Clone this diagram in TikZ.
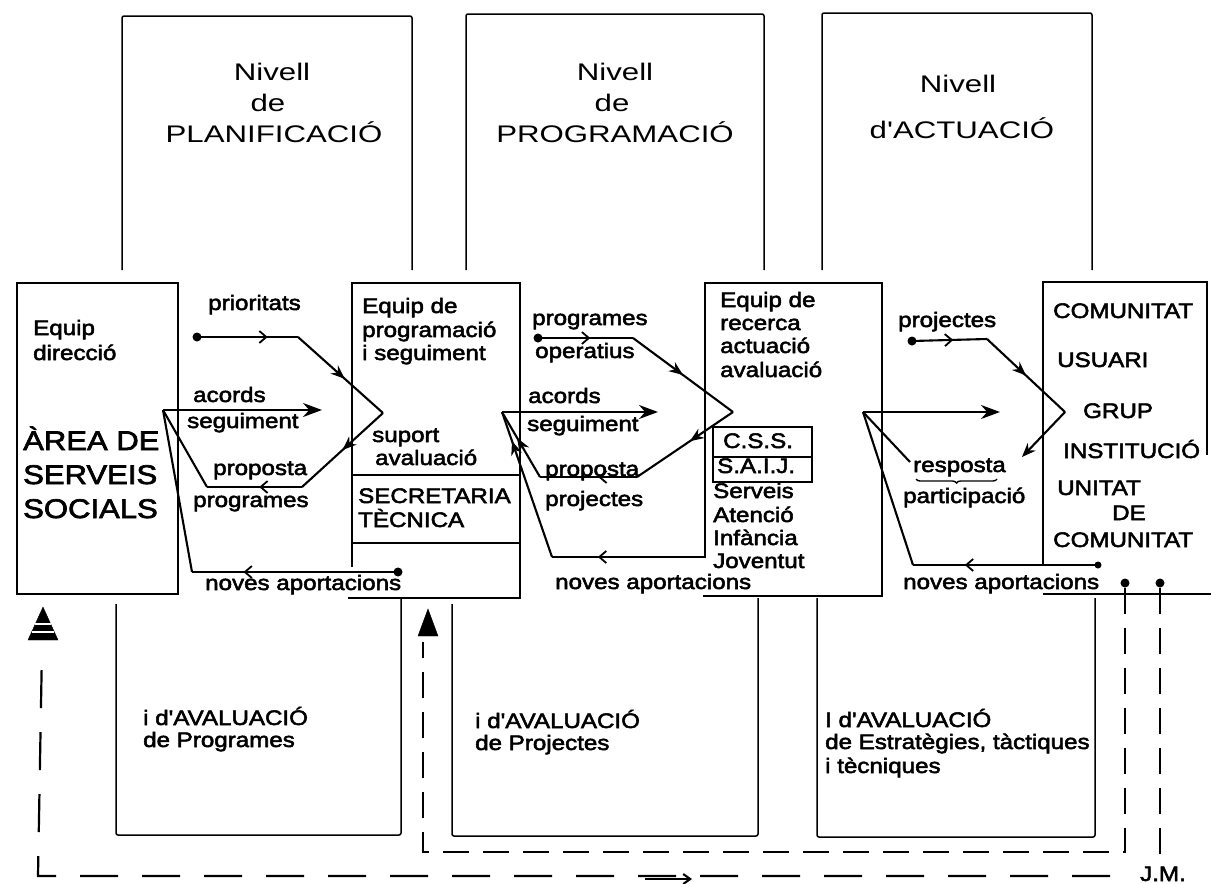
\documentclass[tikz,border=0pt]{standalone}
\usepackage{fontspec}
\setmainfont{Liberation Sans}
\newfontfamily\bodyf{Liberation Sans}[FakeStretch=1.15,FakeBold=2.5]
\newfontfamily\headf{Liberation Sans}[FakeStretch=1.3]
\usetikzlibrary{arrows.meta,decorations.markings,decorations.pathreplacing}
\tikzset{
  frame/.style={line width=1.5pt, rounded corners=2pt},
  box/.style={line width=2.4pt},
  conn/.style={line width=2.1pt},
  lab/.style={font=\bodyf\fontsize{21}{25}\selectfont, anchor=base west, inner sep=0pt},
  head/.style={font=\headf\fontsize{24}{28}\selectfont, anchor=base, inner sep=0pt},
  big/.style={font=\bodyf\fontsize{27}{32}\selectfont, anchor=base west, inner sep=0pt},
  midarr/.style={postaction={decorate}, decoration={markings, mark=at position #1 with {\arrow{Stealth[length=14pt,width=11pt]}}}},
  midbarb/.style={postaction={decorate}, decoration={markings, mark=at position #1 with {\arrow{Straight Barb[length=7pt,width=12pt,line width=1.8pt]}}}},
  bigtip/.style={-{Stealth[length=19pt,width=14pt]}},
  endtip/.style={-{Stealth[length=14pt,width=11pt]}},
  dotn/.style={circle, fill, inner sep=0pt, minimum size=9pt},
  sdotn/.style={circle, fill, inner sep=0pt, minimum size=7pt},
  dsha/.style={line width=2.2pt, dash pattern=on 38pt off 24pt},
  dshb/.style={line width=2.2pt, dash pattern=on 26pt off 14pt},
  tri/.style={fill=black},
}
\begin{document}
\begin{tikzpicture}[x=1pt,y=-1pt]
\useasboundingbox (0,0) rectangle (1211,884);
\fill[white] (0,0) rectangle (1211,884);

% ---------- upper column frames ----------
\draw[frame] (122,270) -- (122,16) -- (412,16) -- (412,270);
\draw[frame] (466,270) -- (466,14) -- (764,14) -- (764,270);
\draw[frame] (822,270) -- (822,13) -- (1092,13) -- (1092,270);
\node[head] (h1a) at (272,80) {Nivell};
\node[head] (h1b) at (268,111) {de};
\node[head] (h1c) at (274,142) {PLANIFICACIÓ};
\node[head] (h2a) at (615,80) {Nivell};
\node[head] (h2b) at (612,111) {de};
\node[head] (h2c) at (615,142) {PROGRAMACIÓ};
\node[head] (h3a) at (958,92) {Nivell};
\node[head] (h3b) at (962,138) {d'ACTUACIÓ};

% ---------- lower column frames ----------
\draw[frame] (116,604) -- (116,835) -- (401,835) -- (401,598);
\draw[frame] (452,604) -- (452,836) -- (758,836) -- (758,598);
\draw[frame] (817,598) -- (817,837) -- (1095,837) -- (1095,598);
\node[lab] (l1a) at (143,725) {i d'AVALUACIÓ};
\node[lab] (l1b) at (143,747) {de Programes};
\node[lab] (l2a) at (475,728) {i d'AVALUACIÓ};
\node[lab] (l2b) at (475,750) {de Projectes};
\node[lab] (l3a) at (825,727) {I d'AVALUACIÓ};
\node[lab] (l3b) at (825,749) {de Estratègies, tàctiques};
\node[lab] (l3c) at (825,773) {i tècniques};

% ---------- middle boxes ----------
\draw[box] (17,283) rectangle (178,594);
\node[lab] (e1) at (33,335) {Equip};
\node[lab] (e2) at (33,360) {direcció};
\node[big] (b1) at (23,450) {ÀREA DE};
\node[big] (b2) at (23,484) {SERVEIS};
\node[big] (b3) at (23,518) {SOCIALS};

\draw[box] (352,567) -- (352,283) -- (520,283) -- (520,598) -- (348,598);
\draw[box] (352,475) -- (520,475);
\draw[box] (352,543) -- (520,543);
\node[lab] (p1) at (362,313) {Equip de};
\node[lab] (p2) at (362,337) {programació};
\node[lab] (p3) at (362,360) {i seguiment};
\node[lab] (p4) at (372,442) {suport};
\node[lab] (p5) at (375,465) {avaluació};
\node[lab] (p6) at (358,503) {SECRETARIA};
\node[lab] (p7) at (358,527) {TÈCNICA};

\draw[box] (705,558) -- (705,283) -- (882,283) -- (882,596) -- (703,596);
\draw[box] (713,427) rectangle (812,482);
\draw[box] (713,457) -- (812,457);
\node[lab] (r1) at (720,307) {Equip de};
\node[lab] (r2) at (720,330) {recerca};
\node[lab] (r3) at (720,353) {actuació};
\node[lab] (r4) at (720,377) {avaluació};
\node[lab] (r5) at (723,448) {C.S.S.};
\node[lab] (r6) at (717,473) {S.A.I.J.};
\node[lab] (r7) at (713,498) {Serveis};
\node[lab] (r8) at (713,522) {Atenció};
\node[lab] (r9) at (713,545) {Infància};
\node[lab] (r10) at (713,568) {Joventut};

\draw[box] (1043,565) -- (1043,282) -- (1207,282) -- (1207,455);
\draw[box] (1043,594) -- (1211,594);
\node[lab] (c1) at (1053,318) {COMUNITAT};
\node[lab] (c2) at (1057,367) {USUARI};
\node[lab] (c3) at (1083,418) {GRUP};
\node[lab] (c4) at (1063,458) {INSTITUCIÓ};
\node[lab] (c5) at (1057,495) {UNITAT};
\node[lab] (c6) at (1112,520) {DE};
\node[lab] (c7) at (1053,547) {COMUNITAT};

% ---------- gap 1 ----------
\coordinate (D1) at (197,337); \coordinate (C1) at (298,337);
\coordinate (A1) at (383,413); \coordinate (L1) at (302,487);
\coordinate (L1b) at (207,487); \coordinate (P1) at (163,410);
\coordinate (T1) at (322,410); \coordinate (N1) at (192,572);
\coordinate (E1) at (398,572);
\draw[conn, midbarb=0.7] (D1) -- (C1);
\draw[conn, midarr=0.55] (C1) -- (A1);
\draw[conn, midarr=0.5] (A1) -- (L1);
\draw[conn, midbarb=0.45] (L1) -- (L1b);
\draw[conn] (L1b) -- (P1);
\draw[conn, bigtip] (P1) -- (T1);
\draw[conn] (P1) -- (N1);
\draw[conn, midbarb=0.75] (E1) -- (N1);
\node[dotn] (dd1) at (D1) {};
\node[dotn] (de1) at (E1) {};
\node[lab] (g1a) at (208,310) {prioritats};
\node[lab] (g1b) at (193,402) {acords};
\node[lab] (g1c) at (187,428) {seguiment};
\node[lab] (g1d) at (213,475) {proposta};
\node[lab] (g1e) at (193,507) {programes};
\node[lab] (g1f) at (205,590) {noves aportacions};

% ---------- gap 2 ----------
\coordinate (D2) at (538,338); \coordinate (C2) at (633,338);
\coordinate (A2) at (733,412); \coordinate (L2) at (637,477);
\coordinate (L2b) at (540,477); \coordinate (P2) at (502,412);
\coordinate (T2) at (658,412); \coordinate (N2) at (552,557);
\coordinate (E2) at (705,557);
\draw[conn, midbarb=0.55] (D2) -- (C2);
\draw[conn, midarr=0.5] (C2) -- (A2);
\draw[conn, midarr=0.45] (A2) -- (L2);
\draw[conn, midbarb=0.4] (L2) -- (L2b);
\draw[conn, midarr=0.6] (L2b) -- (P2);
\draw[conn, bigtip] (P2) -- (T2);
\draw[conn, midarr=0.8] (N2) -- (P2);
\draw[conn, midbarb=0.7] (E2) -- (N2);
\node[dotn] (dd2) at (D2) {};
\node[lab] (g2a) at (532,325) {programes};
\node[lab] (g2b) at (535,358) {operatius};
\node[lab] (g2c) at (528,403) {acords};
\node[lab] (g2d) at (527,431) {seguiment};
\node[lab] (g2e) at (545,476) {proposta};
\node[lab] (g2f) at (545,506) {projectes};
\node[lab] (g2g) at (555,589) {noves aportacions};

% ---------- gap 3 ----------
\coordinate (D3) at (912,341); \coordinate (C3) at (987,339);
\coordinate (A3) at (1065,412); \coordinate (R3) at (1022,457);
\coordinate (P3) at (863,412); \coordinate (T3) at (1000,412);
\coordinate (Q3) at (910,462); \coordinate (N3) at (913,565);
\coordinate (E3) at (1098,565);
\draw[conn, midbarb=0.55] (D3) -- (C3);
\draw[conn, midarr=0.5] (C3) -- (A3);
\draw[conn, endtip] (A3) -- (R3);
\draw[conn, bigtip] (P3) -- (T3);
\draw[conn] (P3) -- (Q3);
\draw[conn] (P3) -- (N3);
\draw[conn, midbarb=0.72] (E3) -- (N3);
\node[dotn] (dd3) at (D3) {};
\node[sdotn] (de3) at (E3) {};
\node[lab] (g3a) at (898,327) {projectes};
\node[lab] (g3b) at (913,472) {resposta};
\draw[line width=1.4pt, decorate, decoration={brace, mirror, amplitude=4pt}] (916,479) -- (997,479);
\node[lab] (g3c) at (903,503) {participació};
\node[lab] (g3d) at (903,589) {noves aportacions};

% ---------- dashed feedback lines ----------
\node[dotn] (k1) at (1125,583) {};
\node[dotn] (k2) at (1160,583) {};
\coordinate (F1) at (1125,852); \coordinate (F2) at (423,852);
\coordinate (F3) at (423,642);
\draw[dshb] (k1) -- (F1) -- (F2) -- (F3);
\draw[tri] (428,609) -- (438,636) -- (418,636) -- cycle;
\coordinate (G1) at (1160,862);
\draw[dshb] (k2) -- (G1);
\coordinate (H1) at (1110,876); \coordinate (H2) at (38,876);
\coordinate (H3) at (42,648);
\draw[dsha] (H1) -- (H2) -- (H3);
\draw[tri] (43,607) -- (58,640) -- (28,640) -- cycle;
\draw[white, line width=1.2pt] (35,624) -- (51,624) (32,632) -- (54,632);
\coordinate (J1) at (645,879); \coordinate (J2) at (692,879);
\draw[conn, -{Straight Barb[length=7pt,width=10pt]}] (J1) -- (J2);
\node[font=\bodyf\fontsize{21}{25}\selectfont, anchor=base, inner sep=0pt] (jm) at (1163,881) {J.M.};
\end{tikzpicture}
\end{document}
